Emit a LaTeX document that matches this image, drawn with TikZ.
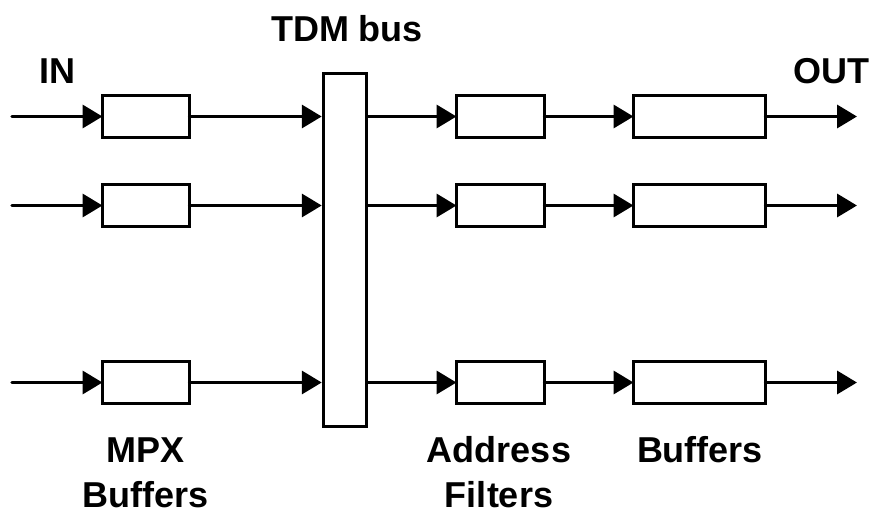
\documentclass[tikz,border=0pt]{standalone}
\usepackage{fontspec}
\setmainfont{Liberation Sans}
\usetikzlibrary{arrows.meta}
\begin{document}
\begin{tikzpicture}[x=1pt,y=-1pt,
  blk/.style={draw,line width=3.5pt,minimum height=42pt,inner sep=0pt,outer sep=0pt},
  wire/.style={line width=3.5pt,line cap=round},
  feed/.style={wire,-{Triangle[length=20pt,width=23pt]}},
  lbl/.style={font=\bfseries\fontsize{36}{45}\selectfont,anchor=base,inner sep=0pt}]
\useasboundingbox (0,0) rectangle (877,514);

% TDM bus
\node[draw,line width=3.5pt,minimum width=43pt,minimum height=353pt,inner sep=0pt] (bus) at (345,250) {};

% three channels: MPX buffer, address filter, output buffer
\foreach \r/\y in {1/116.5,2/205.5,3/382.5}{
  \node[blk,minimum width=87pt] (m\r) at (146,\y) {};
  \node[blk,minimum width=88pt] (a\r) at (500.5,\y) {};
  \node[blk,minimum width=132pt] (b\r) at (699.5,\y) {};
  \coordinate (in\r) at (12,\y);
  \coordinate (out\r) at (857,\y);
  \draw[feed] (in\r) -- (m\r.west);
  \draw[feed] (m\r.east) -- (m\r.east -| bus.west);
  \draw[feed] (a\r.west -| bus.east) -- (a\r.west);
  \draw[feed] (a\r.east) -- (b\r.west);
  \draw[feed] (b\r.east) -- (out\r);
}

% labels
\node[lbl] (tin) at (57,83) {IN};
\node[lbl] (tout) at (831.5,83) {OUT};
\node[lbl] (tbus) at (347,41) {TDM bus};
\node[lbl] (tm1) at (146,462) {MPX};
\node[lbl] (tm2) at (146,507) {Buffers};
\node[lbl] (ta1) at (499,462) {Address};
\node[lbl] (ta2) at (499,507) {Filters};
\node[lbl] (tb1) at (700,462) {Buffers};
\end{tikzpicture}
\end{document}
